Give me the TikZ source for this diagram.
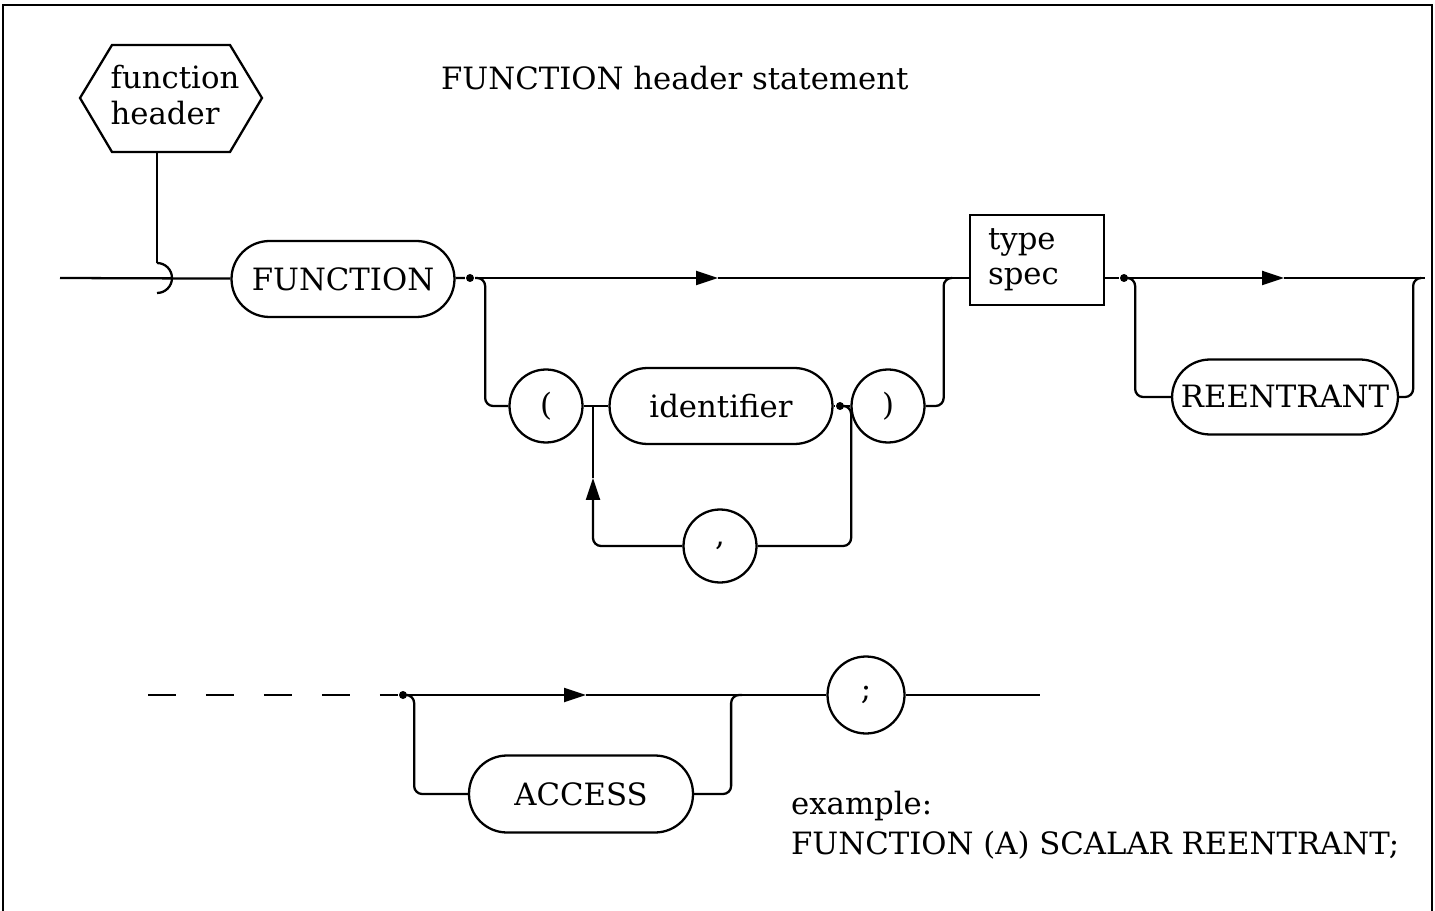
\documentclass[tikz,border=0pt]{standalone}
\usepackage{fontspec}
\setmainfont{DejaVu Serif}
\usetikzlibrary{arrows.meta}

\begin{document}
\begin{tikzpicture}[x=0.02cm,y=-0.02cm,line width=1.3pt,font=\fontsize{17.5}{20}\selectfont]
					\tikzstyle{term}=[draw,rectangle,rounded corners=0.76cm,minimum width=4.46cm,minimum height=1.52cm,inner sep=0pt]
					\tikzstyle{sym}=[draw,circle,minimum size=1.46cm,inner sep=0pt]
					\tikzstyle{dot}=[circle,fill=black,minimum size=0.16cm,inner sep=0pt]
					\tikzstyle{flow}=[-{Triangle[length=0.44cm,width=0.28cm]}]
					\tikzstyle{back}=[rounded corners=0.16cm]
					\useasboundingbox (0,0) rectangle (1435,911);
					\draw[line width=1.6pt] (3,911) -- (3,5) -- (1432,5) -- (1432,911);
					% header and title
					\node[align=left] (hdr) at (175,95) {function\\header};
					\draw (80,98) -- (112,45) -- (230,45) -- (262,98) -- (230,152) -- (112,152) -- cycle;
					\node[anchor=west,inner sep=0pt] (title) at (440,78) {FUNCTION header statement};
					\coordinate (hexB) at (157,152);
					\coordinate (joinT) at (157,263);
					\coordinate (start) at (60,278);
					% first row
					\node[term] (fn) at (343,279) {FUNCTION};
					\node[dot] (d1) at (470,278) {};
					\coordinate (a1) at (718,278);
					\coordinate (j1) at (952,278);
					\node[sym] (lp) at (546,406) {(};
					\node[term] (id) at (721,406) {identifier};
					\node[dot] (d2) at (840,406) {};
					\node[sym] (rp) at (888,406) {)};
					\coordinate (j2) at (593,406);
					\coordinate (a2) at (593,478);
					\node[sym] (cm) at (720,546) {,};
					\node[draw,minimum height=1.8cm,text width=1.96cm,inner xsep=0.36cm,inner ysep=0pt,align=left] (ts) at (1037,260) {type\\spec};
					\node[dot] (d3) at (1124,278) {};
					\coordinate (a3) at (1284,278);
					\coordinate (j3) at (1420,278);
					\coordinate (end1) at (1425,278);
					\node[term,minimum width=4.52cm,minimum height=1.5cm] (re) at (1285,397) {REENTRANT};
					% second row
					\coordinate (ds) at (148,695);
					\node[dot] (d4) at (403,695) {};
					\coordinate (a4) at (586,695);
					\coordinate (j4) at (742,695);
					\node[sym,minimum size=1.54cm] (sc) at (866,695) {;};
					\coordinate (end2) at (1040,695);
					\node[term,minimum width=4.48cm,minimum height=1.54cm] (ac) at (581,794) {ACCESS};
					\node[anchor=west,inner sep=0pt] (ex) at (790,806) {example:};
					\node[anchor=west,inner sep=0pt] (exs) at (790,845) {FUNCTION (A) SCALAR REENTRANT;};
					% connectors
					\draw (hexB) -- (joinT);
					\draw (joinT) arc[start angle=90,end angle=-90,radius=0.3cm];
					\draw (start) -- (fn);
					\draw (fn) -- (d1);
					\draw[flow] (d1) -- (a1);
					\draw (a1) -- (j1) -- (ts.west |- j1);
					\draw[back] (d1.east) -- ++(10,0) |- (lp);
					\draw (lp) -- (id);
					\draw (id) -- (d2) -- (rp);
					\draw[back] (rp.east) -- ++(18,0) |- (j1);
					\draw[back] (d2.east) -- ++(6,0) |- (cm);
					\draw[flow,back] (cm) -| (a2);
					\draw (a2) -- (j2);
					\draw (ts.east |- d3) -- (d3);
					\draw[flow] (d3) -- (a3);
					\draw (a3) -- (end1);
					\draw[back] (d3.east) -- ++(6,0) |- (re);
					\draw[back] (re.east) -- ++(14,0) |- (j3);
					\draw[dash pattern=on 0.56cm off 0.6cm] (ds) -- (d4);
					\draw[flow] (d4) -- (a4);
					\draw (a4) -- (j4) -- (sc);
					\draw (sc) -- (end2);
					\draw[back] (d4.east) -- ++(6,0) |- (ac);
					\draw[back] (ac.east) -- ++(37,0) |- (j4);
					\end{tikzpicture}
\end{document}
